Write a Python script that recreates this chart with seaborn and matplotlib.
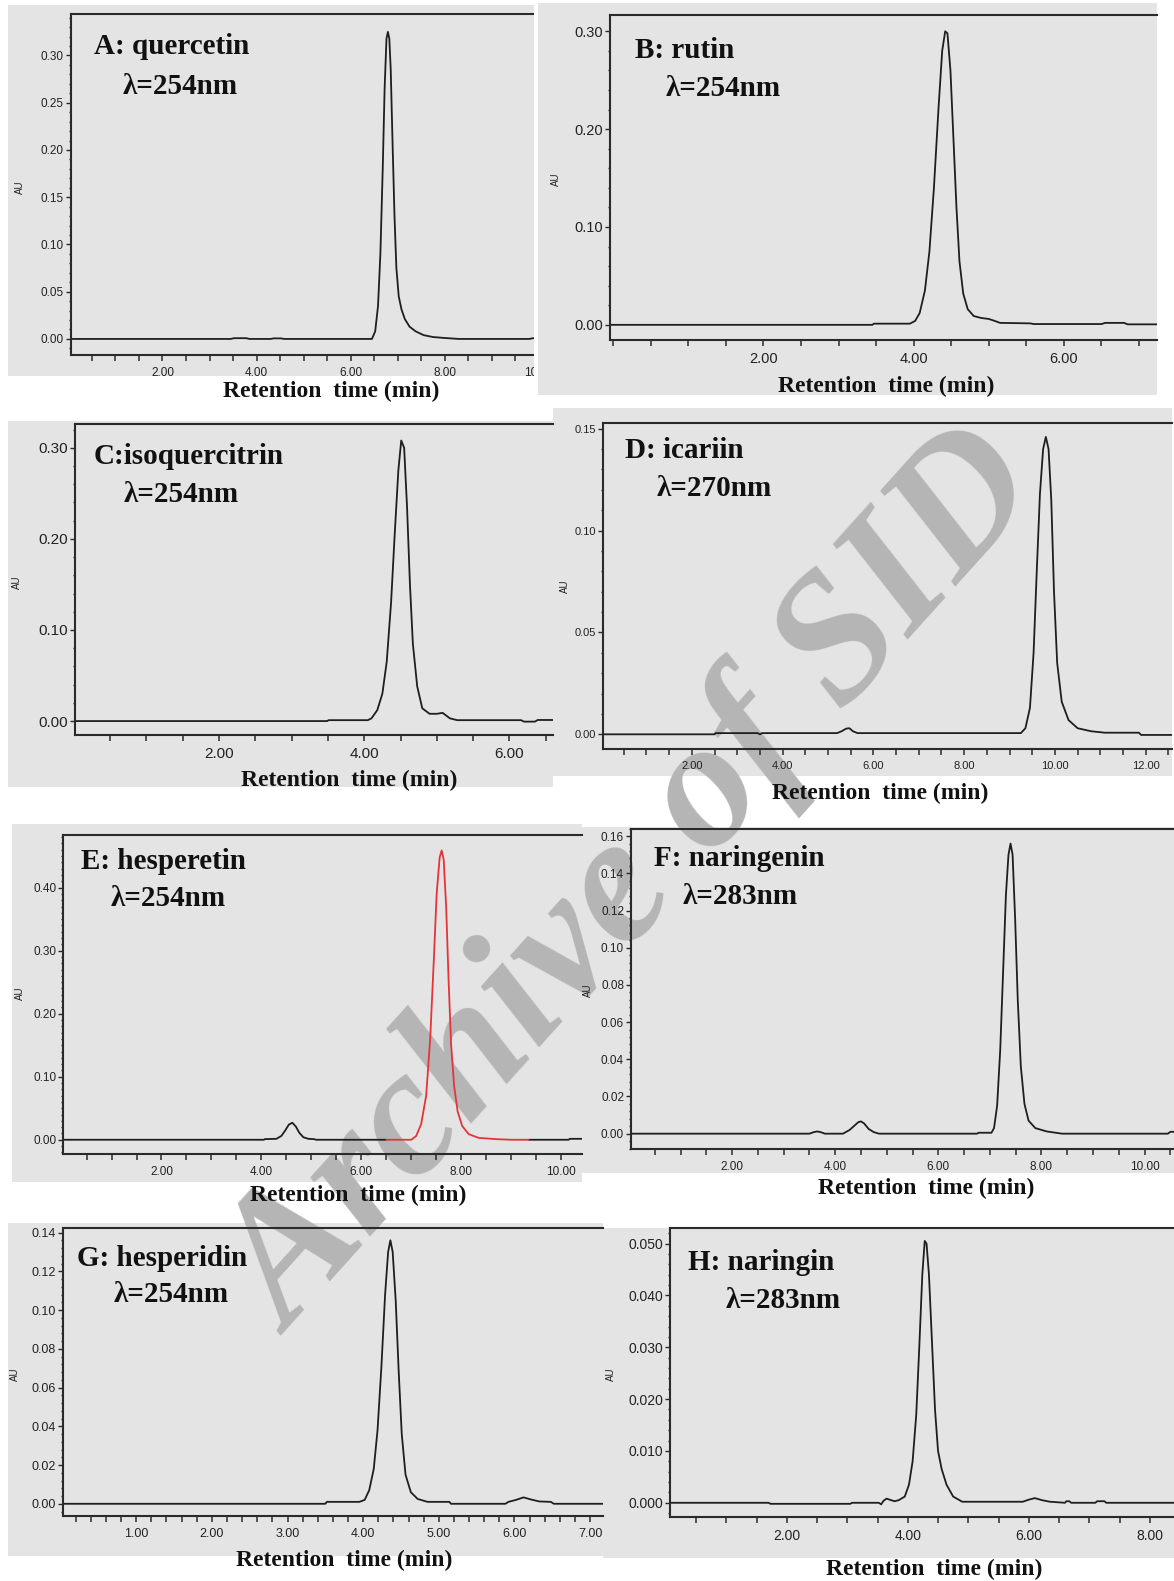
import numpy as np
import matplotlib
matplotlib.use("Agg")
import matplotlib.pyplot as plt
import seaborn as sns
from matplotlib.patches import Rectangle
from matplotlib.ticker import FixedLocator, FormatStrFormatter, MultipleLocator

# ---------------- data ----------------
A_time = [0.05, 3.45, 3.52, 3.78, 3.85, 4.30, 4.36, 4.52, 4.58, 6.45, 6.52, 6.58, 6.63, 6.68,
          6.72, 6.76, 6.79, 6.82, 6.85, 6.89, 6.93, 6.97, 7.02, 7.08, 7.15, 7.25, 7.38, 7.55,
          7.75, 8.00, 8.30, 9.80, 9.86, 10.00, 10.06, 10.30]
A_au = [0, 0, 0.0008, 0.0008, 0, 0, 0.0006, 0.0006, 0, 0, 0.008, 0.035, 0.090, 0.180,
        0.265, 0.318, 0.325, 0.318, 0.285, 0.205, 0.130, 0.075, 0.045, 0.031, 0.021, 0.013,
        0.008, 0.004, 0.002, 0.001, 0, 0, 0.0007, 0.0007, 0, 0]

B_time = [-0.04, 3.45, 3.47, 3.95, 4.02, 4.08, 4.15, 4.21, 4.27, 4.33, 4.38, 4.42, 4.45,
          4.49, 4.53, 4.57, 4.61, 4.66, 4.72, 4.80, 4.90, 5.00, 5.08, 5.15, 5.55, 5.60, 6.50,
          6.55, 6.80, 6.85, 7.25]
B_au = [0, 0, 0.0012, 0.0012, 0.004, 0.012, 0.035, 0.075, 0.14, 0.22, 0.28, 0.30, 0.298,
        0.26, 0.19, 0.12, 0.065, 0.032, 0.016, 0.009, 0.007, 0.006, 0.004, 0.002, 0.0015,
        0.0008, 0.0008, 0.002, 0.002, 0.0005, 0.0005]

C_time = [0.02, 3.49, 3.51, 4.05, 4.10, 4.18, 4.25, 4.31, 4.37, 4.42, 4.47, 4.51, 4.55,
          4.59, 4.63, 4.67, 4.73, 4.80, 4.90, 5.00, 5.08, 5.18, 5.28, 6.16, 6.20, 6.35, 6.39,
          6.60]
C_au = [0, 0, 0.001, 0.001, 0.003, 0.012, 0.030, 0.065, 0.13, 0.205, 0.275, 0.308, 0.300,
        0.235, 0.150, 0.085, 0.038, 0.014, 0.008, 0.008, 0.009, 0.003, 0.001, 0.001, -0.0006,
        -0.0006, 0.0012, 0.0012]

D_time = [0.04, 2.50, 2.52, 3.45, 3.50, 3.55, 5.20, 5.30, 5.40, 5.47, 5.55, 5.65, 9.25,
          9.35, 9.45, 9.53, 9.60, 9.67, 9.74, 9.80, 9.86, 9.92, 9.98, 10.05, 10.15, 10.30,
          10.50, 10.80, 11.10, 11.85, 11.90, 12.60]
D_au = [0, 0, 0.0006, 0.0006, 0.0, 0.0006, 0.0006, 0.0015, 0.0028, 0.003, 0.0015, 0.0006,
        0.0006, 0.003, 0.013, 0.040, 0.080, 0.118, 0.140, 0.146, 0.140, 0.115, 0.070, 0.035,
        0.016, 0.007, 0.003, 0.0015, 0.0008, 0.0008, -0.0003, -0.0003]

E_time_left = [0.03, 4.05, 4.07, 4.30, 4.40, 4.48, 4.55, 4.62, 4.69, 4.76, 4.84, 4.94, 5.05,
               5.10, 6.50]
E_au_left = [0, 0, 0.001, 0.0015, 0.006, 0.015, 0.024, 0.027, 0.021, 0.011, 0.004, 0.0015,
             0.001, 0, 0]
E_time_right = [9.35, 10.15, 10.18, 10.45]
E_au_right = [0, 0, 0.0015, 0.0015]
E_red_time = [6.50, 7.00, 7.10, 7.20, 7.30, 7.38, 7.45, 7.51, 7.57, 7.61, 7.65, 7.70, 7.75,
              7.80, 7.86, 7.93, 8.02, 8.15, 8.35, 8.70, 9.00, 9.35]
E_red_au = [0, 0, 0.006, 0.025, 0.070, 0.160, 0.280, 0.390, 0.448, 0.459, 0.445, 0.370,
            0.250, 0.150, 0.085, 0.045, 0.022, 0.009, 0.003, 0.001, 0, 0]

F_time = [0.04, 3.50, 3.58, 3.65, 3.72, 3.80, 4.15, 4.28, 4.38, 4.45, 4.50, 4.56, 4.65,
          4.75, 4.85, 6.75, 6.78, 7.03, 7.08, 7.14, 7.20, 7.26, 7.31, 7.36, 7.40, 7.44, 7.49,
          7.54, 7.60, 7.67, 7.75, 7.88, 8.10, 8.40, 10.45, 10.50, 10.60]
F_au = [0, 0, 0.0008, 0.0012, 0.0008, 0, 0, 0.002, 0.0045, 0.0062, 0.0066, 0.0055, 0.0025,
        0.0008, 0, 0, 0.0005, 0.0005, 0.003, 0.015, 0.045, 0.090, 0.128, 0.150, 0.156,
        0.150, 0.115, 0.072, 0.036, 0.016, 0.007, 0.003, 0.0012, 0, 0, 0.001, 0.001]

G_time = [0.03, 3.50, 3.52, 3.95, 4.02, 4.08, 4.14, 4.19, 4.24, 4.29, 4.33, 4.36, 4.39,
          4.43, 4.47, 4.51, 4.56, 4.63, 4.72, 4.85, 5.14, 5.16, 5.88, 5.92, 6.02, 6.12, 6.22,
          6.33, 6.48, 6.52, 7.20]
G_au = [0, 0, 0.001, 0.001, 0.002, 0.007, 0.018, 0.038, 0.070, 0.108, 0.130, 0.136, 0.130,
        0.105, 0.068, 0.036, 0.015, 0.006, 0.0025, 0.001, 0.001, 0, 0, 0.001, 0.002, 0.0033,
        0.0022, 0.0012, 0.001, 0, 0]

H_time = [0.07, 1.70, 1.73, 3.05, 3.08, 3.52, 3.56, 3.60, 3.65, 3.70, 3.78, 3.85, 3.95,
          4.02, 4.08, 4.14, 4.19, 4.24, 4.28, 4.31, 4.35, 4.40, 4.45, 4.50, 4.56, 4.64, 4.75,
          4.90, 5.90, 6.00, 6.10, 6.22, 6.35, 6.60, 6.62, 6.67, 6.70, 7.10, 7.13, 7.25, 7.28,
          8.45]
H_au = [0, 0, -0.0002, -0.0002, 0.0, 0.0, -0.0003, 0.0004, 0.0008, 0.0006, 0.0003, 0.0005,
        0.0012, 0.0035, 0.008, 0.017, 0.030, 0.044, 0.0505, 0.050, 0.044, 0.031, 0.018,
        0.010, 0.0065, 0.0035, 0.0012, 0.0002, 0.0002, 0.0006, 0.0009, 0.0005, 0.0002, 0,
        0.0003, 0.0003, 0, 0, 0.0003, 0.0003, 0, 0]

# tick label values
A_xticks = [2, 4, 6, 8, 10]
B_xticks = [2, 4, 6]
C_xticks = [2, 4, 6]
D_xticks = [2, 4, 6, 8, 10, 12]
E_xticks = [2, 4, 6, 8, 10]
F_xticks = [2, 4, 6, 8, 10]
G_xticks = [1, 2, 3, 4, 5, 6, 7]
H_xticks = [2, 4, 6, 8]

# panel titles
titles = ["A: quercetin", "B: rutin", "C:isoquercitrin", "D: icariin",
          "E: hesperetin", "F: naringenin", "G: hesperidin", "H: naringin"]
wavelengths = ["λ=254nm", "λ=254nm", "λ=254nm", "λ=270nm",
               "λ=254nm", "λ=283nm", "λ=254nm", "λ=283nm"]
x_label = "Retention  time (min)"
y_label = "AU"

# ---------------- style ----------------
W, H = 1174, 1581
sns.set_theme(style="ticks")
plt.rcParams["font.family"] = ["Liberation Sans Narrow", "Liberation Sans", "DejaVu Sans"]
plt.rcParams["axes.unicode_minus"] = False

GRAY = "#e4e4e4"
INK = "#1e1e1e"
RED = "#e3343c"
SERIF = ["Liberation Serif", "DejaVu Serif"]

fig = plt.figure(figsize=(W / 100, H / 100), dpi=100)
fig.patch.set_facecolor("white")


def fx(x):
    return x / W


def fy(y):
    return 1 - y / H


def add_rect(box, z, color=GRAY):
    x0, y0, x1, y1 = box
    fig.add_artist(Rectangle((fx(x0), fy(y1)), (x1 - x0) / W, (y1 - y0) / H,
                             transform=fig.transFigure, facecolor=color,
                             edgecolor="none", zorder=z))


# layout: bg box (x0,y0,x1,y1), axes box (l,t,r,b) in pixels
layout = [
    dict(bg=(8, 5, 535, 376), ax=(70.7, 13.9, 553.1, 355), xlim=(0.05, 10.3),
         ylim=(-0.017, 0.344), ymaj=0.05, ymin=0.01, yfmt="%.2f", xmin=0.5, ts=8.5,
         t1=(94, 47), t2=(123, 86), xl=(331, 391), au=(20, 187), zb=1, za=2),
    dict(bg=(538, 3, 1157, 395), ax=(610.2, 14.7, 1157, 339.8), xlim=(-0.04, 7.24),
         ylim=(-0.0153, 0.317), ymaj=0.10, ymin=0.02, yfmt="%.2f", xmin=0.5, ts=10.5,
         t1=(635, 50), t2=(666, 89), xl=(886, 386), au=(556, 179), zb=3, za=4),
    dict(bg=(8, 421, 553, 787), ax=(75.2, 424.1, 553, 735.1), xlim=(0.02, 6.60),
         ylim=(-0.0154, 0.326), ymaj=0.10, ymin=0.02, yfmt="%.2f", xmin=0.5, ts=11,
         t1=(94, 456), t2=(124, 495), xl=(349, 780), au=(17, 582), zb=5, za=7),
    dict(bg=(553, 408, 1172, 776), ax=(602.9, 422.6, 1172, 749.2), xlim=(0.04, 12.58),
         ylim=(-0.0073, 0.153), ymaj=0.05, ymin=0.01, yfmt="%.2f", xmin=0.5, ts=8,
         t1=(625, 451), t2=(657, 489), xl=(880, 793), au=(565, 586), zb=5, za=7),
    dict(bg=(12, 824, 582, 1182), ax=(63.1, 835.3, 582, 1154), xlim=(0.03, 10.42),
         ylim=(-0.0226, 0.483), ymaj=0.10, ymin=0.01, yfmt="%.2f", xmin=0.5, ts=8.5,
         t1=(81, 862), t2=(111, 899), xl=(358, 1195), au=(20, 993), zb=5, za=7),
    dict(bg=(582, 827, 1174, 1173), ax=(631, 828.7, 1174, 1149.1), xlim=(0.04, 10.57),
         ylim=(-0.0083, 0.164), ymaj=0.02, ymin=0.004, yfmt="%.2f", xmin=0.5, ts=8.5,
         t1=(654, 859), t2=(683, 897), xl=(926, 1188), au=(588, 990), zb=5, za=7),
    dict(bg=(8, 1223, 603, 1556), ax=(62.8, 1227.5, 603, 1515.8), xlim=(0.03, 7.17),
         ylim=(-0.0062, 0.1426), ymaj=0.02, ymin=0.004, yfmt="%.2f", xmin=0.2, ts=9,
         t1=(77, 1259), t2=(114, 1295), xl=(344, 1560), au=(15, 1374), zb=5, za=7),
    dict(bg=(603, 1228, 1174, 1558), ax=(670, 1228, 1174, 1517.3), xlim=(0.07, 8.40),
         ylim=(-0.0028, 0.053), ymaj=0.01, ymin=0.002, yfmt="%.3f", xmin=0.5, ts=10,
         t1=(688, 1262), t2=(726, 1301), xl=(934, 1569), au=(611, 1374), zb=5, za=7),
]

series = [
    [(A_time, A_au, INK)],
    [(B_time, B_au, INK)],
    [(C_time, C_au, INK)],
    [(D_time, D_au, INK)],
    [(E_time_left, E_au_left, INK), (E_time_right, E_au_right, INK),
     (E_red_time, E_red_au, RED)],
    [(F_time, F_au, INK)],
    [(G_time, G_au, INK)],
    [(H_time, H_au, INK)],
]
xticks = [A_xticks, B_xticks, C_xticks, D_xticks, E_xticks, F_xticks, G_xticks, H_xticks]

# white gap between panels A and B
add_rect((534, 0, 538, 400), 3, color="white")

for i, L in enumerate(layout):
    add_rect(L["bg"], L["zb"])
    l, t, r, b = L["ax"]
    ax = fig.add_axes([fx(l), fy(b), (r - l) / W, (b - t) / H])
    ax.set_zorder(L["za"])
    ax.patch.set_visible(False)

    for xs, ys, col in series[i]:
        sns.lineplot(x=xs, y=ys, ax=ax, color=col, linewidth=1.3, sort=False,
                     estimator=None)

    ax.set_xlim(*L["xlim"])
    ax.set_ylim(*L["ylim"])
    ax.set_xlabel("")
    ax.set_ylabel("")

    ax.xaxis.set_major_locator(FixedLocator(xticks[i]))
    ax.xaxis.set_minor_locator(MultipleLocator(L["xmin"]))
    ax.xaxis.set_major_formatter(FormatStrFormatter("%.2f"))
    ax.yaxis.set_major_locator(MultipleLocator(L["ymaj"]))
    ax.yaxis.set_minor_locator(MultipleLocator(L["ymin"]))
    ax.yaxis.set_major_formatter(FormatStrFormatter(L["yfmt"]))

    for side in ["left", "top", "bottom"]:
        ax.spines[side].set_visible(True)
        ax.spines[side].set_color("#2a2a2a")
        ax.spines[side].set_linewidth(1.5)
    ax.spines["right"].set_visible(False)

    ax.tick_params(axis="x", which="both", direction="out", length=4.5, width=1.1,
                   color="#2a2a2a", labelsize=L["ts"], labelcolor="#222222", pad=4,
                   top=False, bottom=True)
    ax.tick_params(axis="y", which="major", direction="out", length=3.5, width=1.0,
                   color="#2a2a2a", labelsize=L["ts"], labelcolor="#222222", pad=1.5,
                   left=True, right=False)
    ax.tick_params(axis="y", which="minor", direction="out", length=1.8, width=1.0,
                   color="#2a2a2a", left=True, right=False)

    fig.text(fx(L["t1"][0]), fy(L["t1"][1]), titles[i], ha="left", va="center",
             fontsize=21, family=SERIF, weight="bold", color="#111111", zorder=8)
    fig.text(fx(L["t2"][0]), fy(L["t2"][1]), wavelengths[i], ha="left", va="center",
             fontsize=21, family=SERIF, weight="bold", color="#111111", zorder=8)
    fig.text(fx(L["xl"][0]), fy(L["xl"][1]), x_label, ha="center", va="center",
             fontsize=17, family=SERIF, weight="bold", color="#111111", zorder=8)
    fig.text(fx(L["au"][0]), fy(L["au"][1]), y_label, ha="center", va="center",
             rotation=90, fontsize=7, color="#222222", zorder=8)

# watermark
fig.text(fx(636), fy(885), "Archive of SID", ha="center", va="center", rotation=48,
         rotation_mode="anchor", fontsize=131, family=SERIF, weight="bold",
         style="italic", color="#b5b5b5", zorder=6)

fig.savefig("out.png", dpi=100, facecolor="white")
